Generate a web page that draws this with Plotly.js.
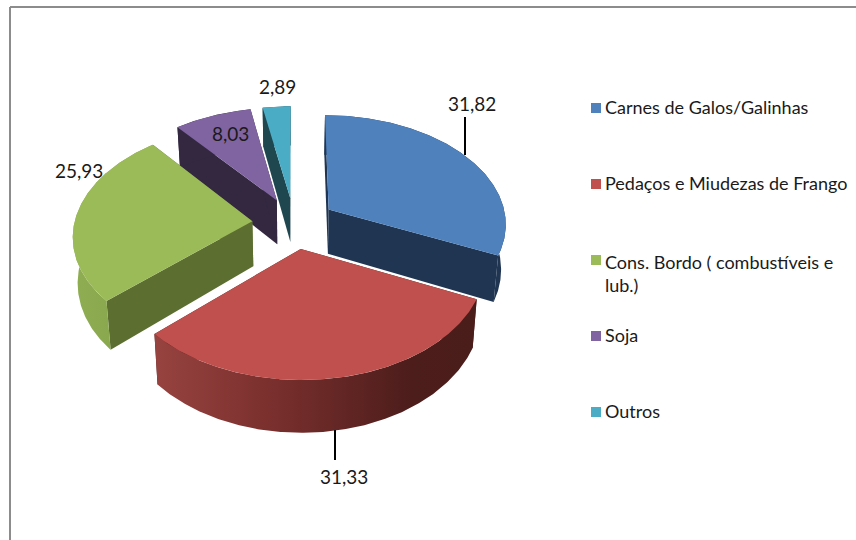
<!DOCTYPE html>
<html><head><meta charset="utf-8">
<script src="https://cdn.plot.ly/plotly-3.0.1.min.js"></script>
<style>html,body{margin:0;padding:0;background:#fff}#c{width:856px;height:540px}</style>
</head><body><div id="c"></div>
<script>
const categories = ["Carnes de Galos/Galinhas","Pedaços e Miudezas de Frango","Cons. Bordo ( combustíveis e<br>lub.)","Soja","Outros"];
const values = [31.82,31.33,25.93,8.03,2.89];
const topColors = ["#4f81bd","#bf504d","#9bbb59","#8064a2","#4bacc6"];
const wallColors = ["#1f3552","#4a1c1a","#5c6e30","#332840","#1f4750"];
const drawOrder = [3,4,2,0,1];
const labelSpots = [[472,103],[344,476],[79,170],[230,133],[277,86]];
const legendY = [107,183,273.5,335,411];

const FONT = "Lato,'Liberation Sans',sans-serif";
const CX=294, CY=223, R=178, TILT=0.61, PERSP=0.12, PULL=0.235, DEPTH=45, LOWX=0.978;
const rad = d => d*Math.PI/180;
function project(X,Y,low){
  const s = 1/(1+PERSP*Y);
  let x = R*X*s, y = -R*TILT*Y*s;
  if(low){ x*=LOWX; y+=DEPTH*s; }
  return [CX+x, CY+y];
}
const total = values.reduce((a,b)=>a+b,0);
let acc=0;
const slices = values.map(v=>{const a0=acc/total*360; acc+=v; const a1=acc/total*360; return {a0,a1,m:(a0+a1)/2};});
function apex(s){return [PULL*Math.sin(rad(s.m)),PULL*Math.cos(rad(s.m))];}
function rim(s,a){const p=apex(s);return [p[0]+Math.sin(rad(a)),p[1]+Math.cos(rad(a))];}
function arc(s){const o=[];const n=Math.ceil(s.a1-s.a0)*2;for(let i=0;i<=n;i++)o.push(s.a0+(s.a1-s.a0)*i/n);return o;}
function poly(pts,color,grad){
  const t={type:"scatter",mode:"lines",x:pts.map(p=>p[0]).concat(pts[0][0]),y:pts.map(p=>p[1]).concat(pts[0][1]),
    fill:"toself",line:{width:0,color:color},hoverinfo:"skip",showlegend:false};
  if(grad) t.fillgradient={type:"horizontal",colorscale:grad}; else t.fillcolor=color;
  return t;
}
const outerGrad = {
  1:[[0,"#974340"],[0.35,"#7b302e"],[0.8,"#4c1d1b"],[1,"#4a1c1a"]],
  2:[[0,"#8fae52"],[1,"#84a04a"]]
};
const traces=[];
drawOrder.forEach(i=>{
  const s=slices[i], ap=apex(s), pa=project(ap[0],ap[1],false), pb=project(ap[0],ap[1],true);
  [s.a0,s.a1].forEach(a=>{
    const r=rim(s,a);
    traces.push(poly([pa,project(r[0],r[1],false),project(r[0],r[1],true),pb],wallColors[i]));
  });
  const as=arc(s);
  const up=as.map(a=>{const r=rim(s,a);return project(r[0],r[1],false);});
  const lo=as.map(a=>{const r=rim(s,a);return project(r[0],r[1],true);}).reverse();
  traces.push(poly(up.concat(lo),wallColors[i],outerGrad[i]));
  traces.push(poly([pa].concat(up),topColors[i]));
});
traces.push({type:"scatter",mode:"markers",x:legendY.map(()=>596),y:[108,184,260,336,412],
  marker:{symbol:"square",size:10,color:topColors,line:{width:0}},hoverinfo:"skip",showlegend:false});

const annotations=[];
values.forEach((v,i)=>annotations.push({x:labelSpots[i][0],y:labelSpots[i][1],xref:"x",yref:"y",showarrow:false,
  text:v.toFixed(2).replace(".",","),font:{family:FONT,size:19,color:"#1a1a1a"},xanchor:"center",yanchor:"middle"}));
categories.forEach((c,i)=>annotations.push({x:603,y:legendY[i],xref:"x",yref:"y",showarrow:false,text:c,align:"left",
  font:{family:FONT,size:18,color:"#1a1a1a"},xanchor:"left",yanchor:"middle"}));

const layout={width:856,height:540,margin:{l:0,r:0,t:0,b:0},paper_bgcolor:"#fff",plot_bgcolor:"#fff",showlegend:false,
  xaxis:{range:[0,856],visible:false,fixedrange:true},
  yaxis:{range:[540,0],visible:false,fixedrange:true},
  annotations,
  shapes:[
    {type:"line",xref:"x",yref:"y",x0:10,y0:7,x1:856,y1:7,line:{color:"#8c8c8c",width:2}},
    {type:"line",xref:"x",yref:"y",x0:10,y0:7,x1:10,y1:540,line:{color:"#8c8c8c",width:2}},
    {type:"line",xref:"x",yref:"y",x0:465,y0:117,x1:465,y1:155,line:{color:"#000",width:2}},
    {type:"line",xref:"x",yref:"y",x0:335,y0:430,x1:335,y1:460,line:{color:"#000",width:2}}
  ]};
Plotly.newPlot("c",traces,layout,{displayModeBar:false,staticPlot:true});
</script></body></html>
